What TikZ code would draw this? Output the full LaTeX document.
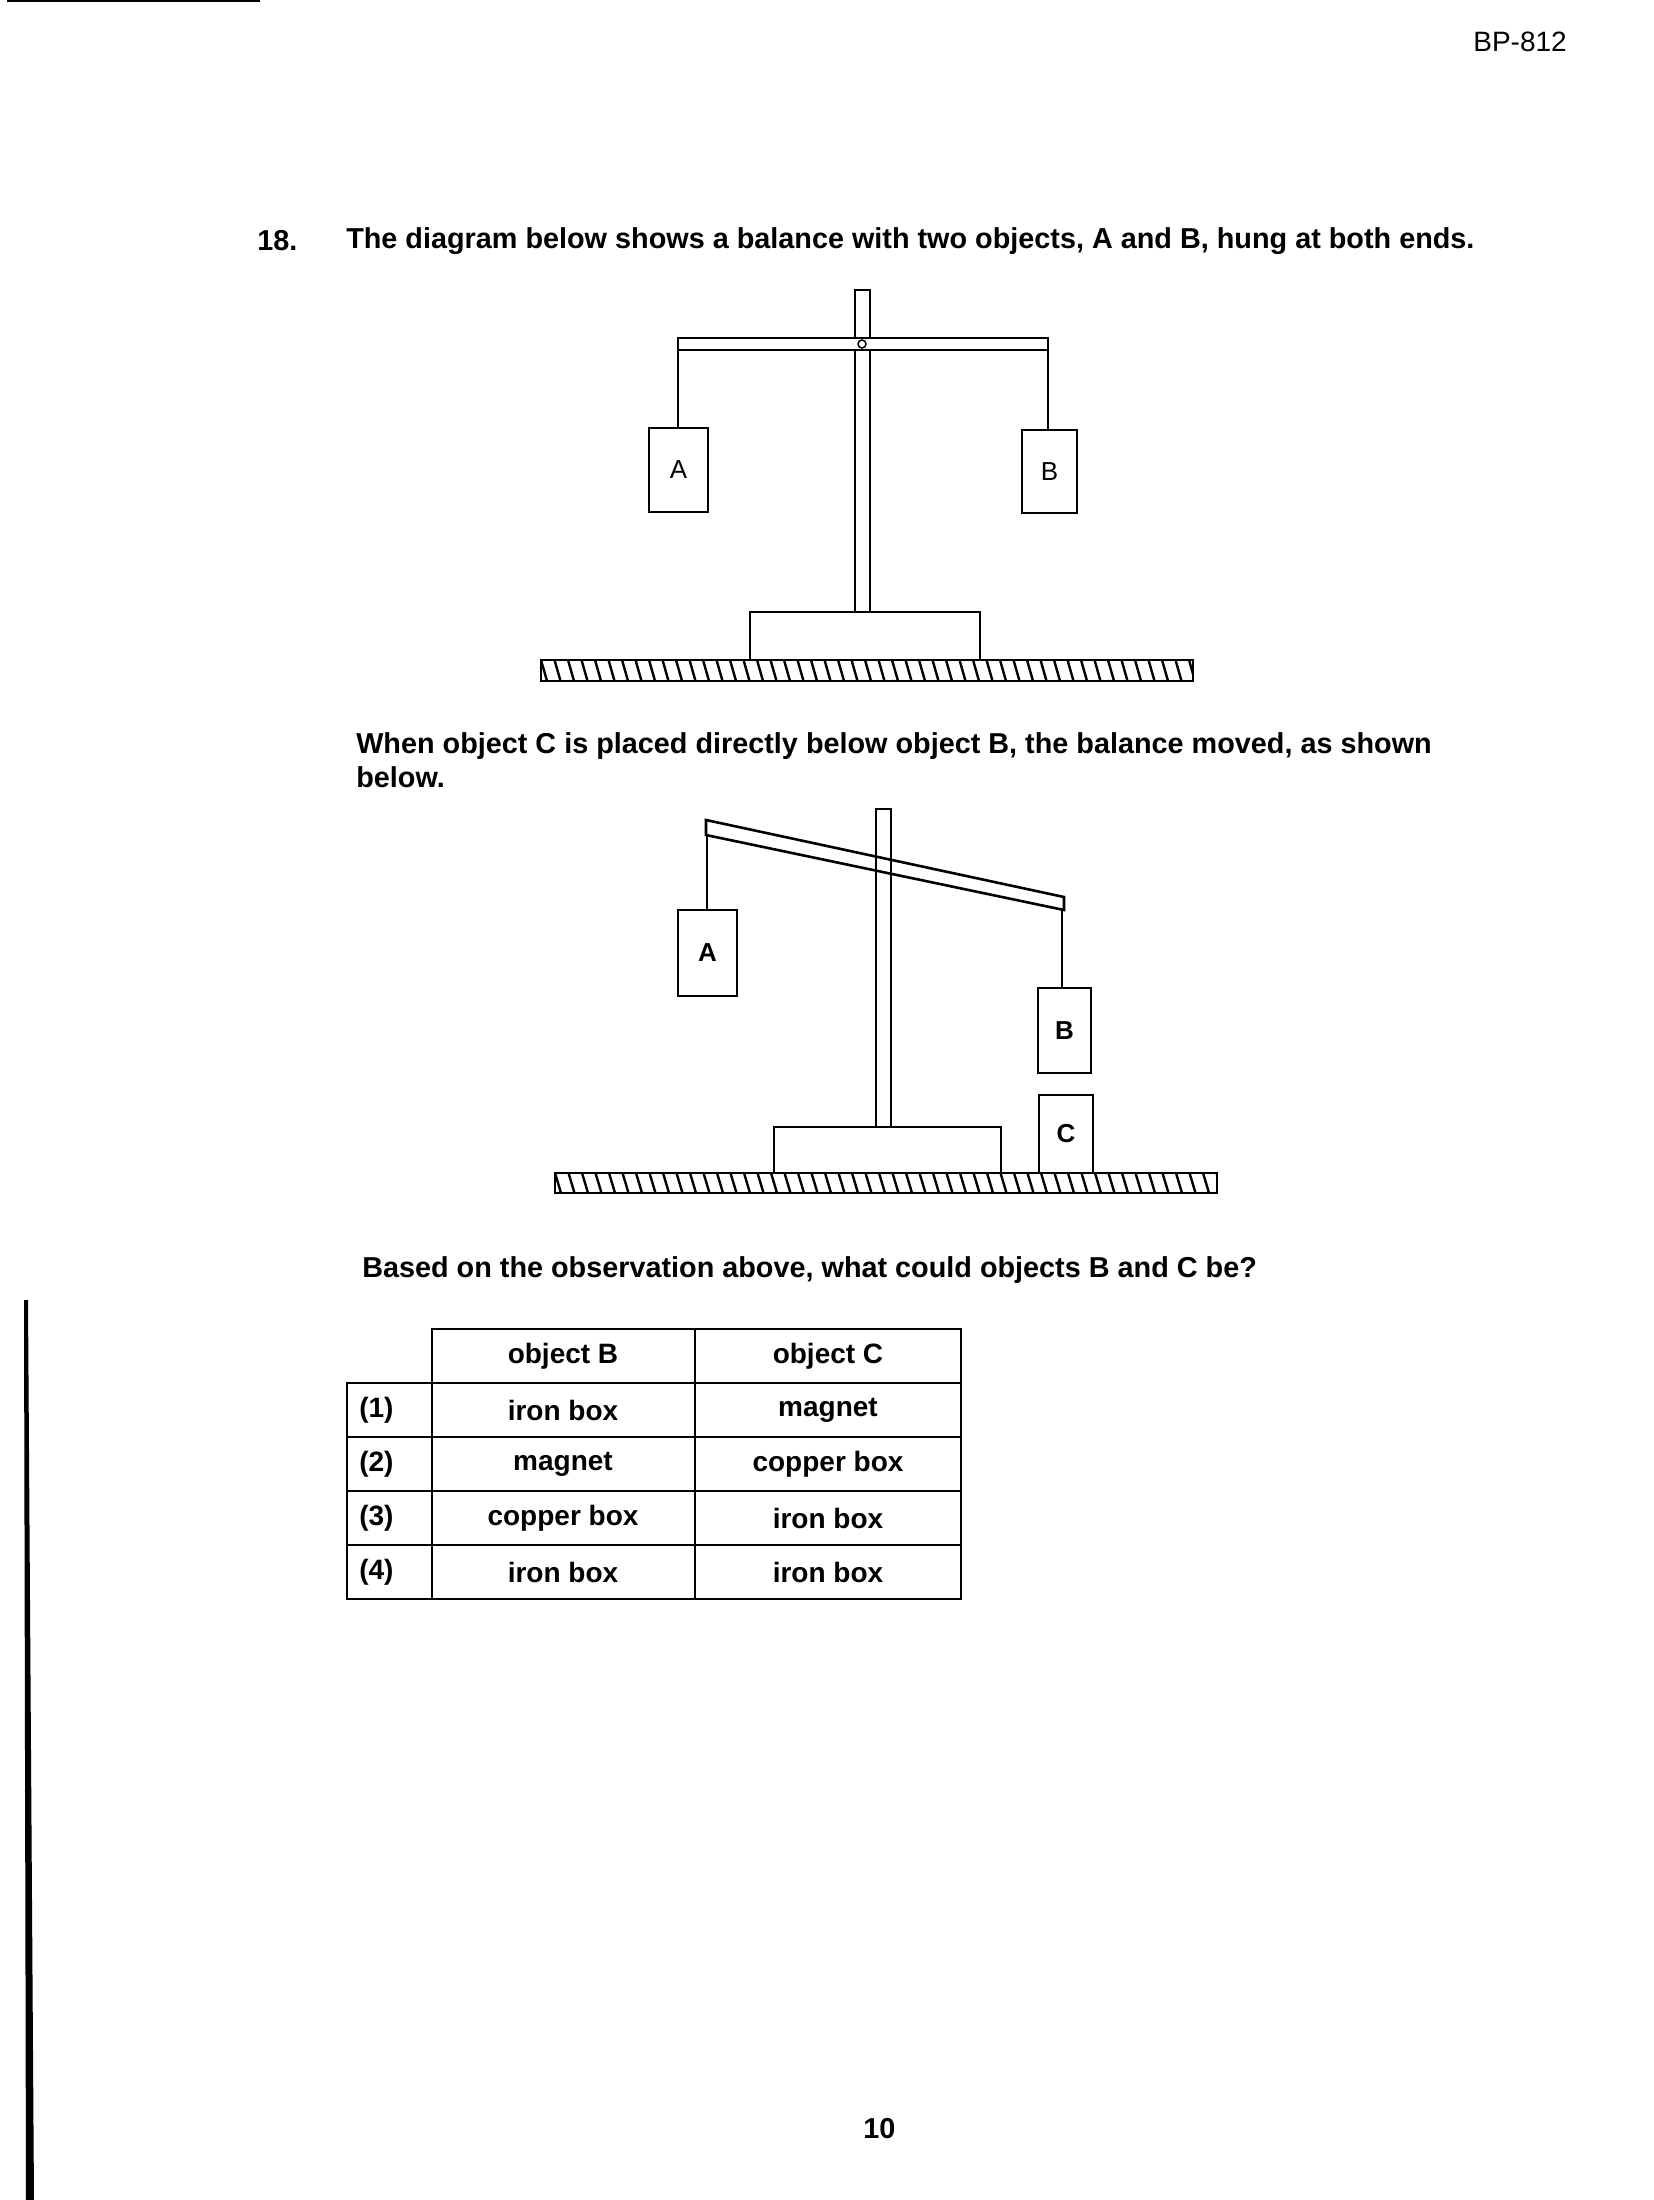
\documentclass[tikz,border=0pt]{standalone}
\usepackage{fontspec}
\setmainfont{Liberation Sans}
\begin{document}
\begin{tikzpicture}[x=1pt,y=-1pt,line width=2.6pt,
  txt/.style={anchor=west,inner sep=0pt,font=\fontsize{28.8}{30}\selectfont\bfseries},
  cell/.style={inner sep=0pt,font=\fontsize{28}{30}\selectfont\bfseries},
  obj/.style={draw,line width=2.4pt,inner sep=0pt,font=\fontsize{26}{28}\selectfont},
  objb/.style={obj,font=\fontsize{26}{28}\selectfont\bfseries}]
\useasboundingbox (0,0) rectangle (1654,2200);
% page marks
\draw[line width=3pt] (7,1) -- (260,1);
\fill (24,1300) -- (28,1300) -- (34,2200) -- (26,2200) -- cycle;
\node[anchor=east,inner sep=0pt,font=\fontsize{28}{30}\selectfont] (code) at (1568,42) {BP-812};
% texts
\node[txt] (num) at (256,241) {18.};
\node[txt] (q1) at (345,241) {The diagram below shows a balance with two objects, A and B, hung at both ends.};
\node[txt] (q2) at (355,746) {When object C is placed directly below object B, the balance moved, as shown};
\node[txt] (q3) at (355,777) {below.};
\node[txt] (q4) at (361,1270) {Based on the observation above, what could objects B and C be?};
\node[txt] (pg) at (862,2129) {10};
% ===== balance 1 =====
\begin{scope}
\clip (541,660) rectangle (1193,681);
\foreach \i in {0,...,50} \draw[line width=2.4pt] ({541+\i*13.5},660) -- ++(6,21);
\end{scope}
\draw (541,660) rectangle (1193,681);
\draw (750,612) rectangle (980,660);
\draw (855,290) rectangle (870,612);
\draw[fill=white] (678,338) rectangle (1048,350);
\draw[line width=1.5pt] (862,344) circle (4);
\node[obj,minimum width=59pt,minimum height=84pt] (A1) at (678.5,470) {A};
\node[obj,minimum width=55pt,minimum height=83pt] (B1) at (1049.5,471.5) {B};
\draw (A1.north -| 678,0) -- (678,350);
\draw (B1.north -| 1048,0) -- (1048,350);
% ===== balance 2 =====
\begin{scope}
\clip (555,1173) rectangle (1217,1193);
\foreach \i in {0,...,52} \draw[line width=2.4pt] ({555+\i*13.5},1173) -- ++(6,20);
\end{scope}
\draw (555,1173) rectangle (1217,1193);
\draw (774,1127) rectangle (1001,1173);
\draw (876,809) rectangle (891,1127);
\draw (706,820) -- (1064,897) -- (1064,910) -- (706,835) -- cycle;
\node[objb,minimum width=59pt,minimum height=86pt] (A2) at (707.5,953) {A};
\node[objb,minimum width=53pt,minimum height=85pt] (B2) at (1064.5,1030.5) {B};
\node[objb,minimum width=54pt,minimum height=78pt] (C2) at (1066,1134) {C};
\draw (A2.north -| 707,0) -- (707,835);
\draw (B2.north -| 1062,0) -- (1062,910);
% ===== table =====
\draw (432,1329) rectangle (961,1599);
\draw (347,1383) rectangle (432,1599);
\foreach \y in {1383,1437,1491,1545} \draw (347,\y) -- (961,\y);
\draw (695,1329) -- (695,1599);
\node[cell] (hB) at (563,1356) {object B};
\node[cell] (hC) at (828,1356) {object C};
\node[cell,anchor=west] (n1) at (358,1410) {(1)};
\node[cell,anchor=west] (n2) at (358,1464) {(2)};
\node[cell,anchor=west] (n3) at (358,1518) {(3)};
\node[cell,anchor=west] (n4) at (358,1572) {(4)};
\node[cell] (b1) at (563,1410) {iron box};
\node[cell] (b2) at (563,1464) {magnet};
\node[cell] (b3) at (563,1518) {copper box};
\node[cell] (b4) at (563,1572) {iron box};
\node[cell] (c1) at (828,1410) {magnet};
\node[cell] (c2) at (828,1464) {copper box};
\node[cell] (c3) at (828,1518) {iron box};
\node[cell] (c4) at (828,1572) {iron box};
\end{tikzpicture}
\end{document}
